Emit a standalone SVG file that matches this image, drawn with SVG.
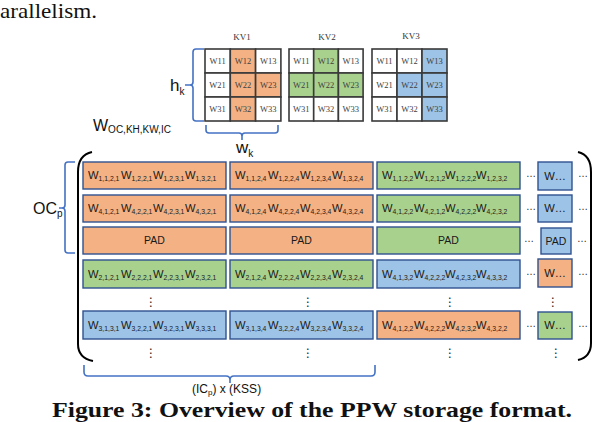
<svg xmlns="http://www.w3.org/2000/svg" width="594" height="422" viewBox="0 0 594 422">
<style>
.kv{stroke:#3a3a3a;stroke-width:1.6}
.ce{font-family:"Liberation Serif",serif;font-size:8.5px;fill:#404040;text-anchor:middle}
.kl{font-family:"Liberation Serif",serif;font-size:9px;fill:#333;text-anchor:middle}
.o{fill:#F4B183}.g{fill:#A9D18E}.b{fill:#9DC3E6}.n{fill:#ffffff}
.bx{stroke:#2F528F;stroke-width:1.4}
.t{font-family:"Liberation Sans",Arial,sans-serif;font-size:11.2px;fill:#1a1a1a}
.s{font-size:6.8px}
.pad{font-family:"Liberation Sans",Arial,sans-serif;font-size:10.5px;fill:#1a1a1a;text-anchor:middle}
.br{fill:none;stroke:#4472C4;stroke-width:1.6}
.lb{font-family:"Liberation Sans",Arial,sans-serif;fill:#111}
.dt{font-family:"Liberation Sans",Arial,sans-serif;font-size:10px;fill:#222;text-anchor:middle}
.vd{font-family:"DejaVu Sans",sans-serif;font-size:12px;fill:#222;text-anchor:middle}
</style>

<text x="0" y="18" font-family="Liberation Serif, serif" font-size="21" fill="#111" textLength="97" lengthAdjust="spacingAndGlyphs">arallelism.</text>

<!-- KV grids -->
<g id="kv1">
<text class="kl" x="242" y="40">KV1</text>
<rect class="n kv" x="205" y="49" width="25.3" height="24"/><rect class="o kv" x="230.3" y="49" width="25.3" height="24"/><rect class="n kv" x="255.6" y="49" width="25.3" height="24"/>
<rect class="n kv" x="205" y="73" width="25.3" height="24"/><rect class="o kv" x="230.3" y="73" width="25.3" height="24"/><rect class="o kv" x="255.6" y="73" width="25.3" height="24"/>
<rect class="n kv" x="205" y="97" width="25.3" height="24"/><rect class="o kv" x="230.3" y="97" width="25.3" height="24"/><rect class="n kv" x="255.6" y="97" width="25.3" height="24"/>
<text class="ce" x="217.6" y="64">W11</text><text class="ce" x="243" y="64">W12</text><text class="ce" x="268.3" y="64">W13</text>
<text class="ce" x="217.6" y="88">W21</text><text class="ce" x="243" y="88">W22</text><text class="ce" x="268.3" y="88">W23</text>
<text class="ce" x="217.6" y="112">W31</text><text class="ce" x="243" y="112">W32</text><text class="ce" x="268.3" y="112">W33</text>
</g>
<g id="kv2">
<text class="kl" x="327" y="40">KV2</text>
<rect class="n kv" x="289" y="49" width="24.7" height="24"/><rect class="g kv" x="313.7" y="49" width="24.7" height="24"/><rect class="n kv" x="338.4" y="49" width="24.7" height="24"/>
<rect class="g kv" x="289" y="73" width="24.7" height="24"/><rect class="g kv" x="313.7" y="73" width="24.7" height="24"/><rect class="g kv" x="338.4" y="73" width="24.7" height="24"/>
<rect class="n kv" x="289" y="97" width="24.7" height="24"/><rect class="n kv" x="313.7" y="97" width="24.7" height="24"/><rect class="n kv" x="338.4" y="97" width="24.7" height="24"/>
<text class="ce" x="301.3" y="64">W11</text><text class="ce" x="326" y="64">W12</text><text class="ce" x="350.7" y="64">W13</text>
<text class="ce" x="301.3" y="88">W21</text><text class="ce" x="326" y="88">W22</text><text class="ce" x="350.7" y="88">W23</text>
<text class="ce" x="301.3" y="112">W31</text><text class="ce" x="326" y="112">W32</text><text class="ce" x="350.7" y="112">W33</text>
</g>
<g id="kv3">
<text class="kl" x="411" y="39">KV3</text>
<rect class="n kv" x="372" y="49" width="25" height="24"/><rect class="n kv" x="397" y="49" width="25" height="24"/><rect class="b kv" x="422" y="49" width="25" height="24"/>
<rect class="n kv" x="372" y="73" width="25" height="24"/><rect class="b kv" x="397" y="73" width="25" height="24"/><rect class="b kv" x="422" y="73" width="25" height="24"/>
<rect class="n kv" x="372" y="97" width="25" height="24"/><rect class="n kv" x="397" y="97" width="25" height="24"/><rect class="b kv" x="422" y="97" width="25" height="24"/>
<text class="ce" x="384.5" y="64">W11</text><text class="ce" x="409.5" y="64">W12</text><text class="ce" x="434.5" y="64">W13</text>
<text class="ce" x="384.5" y="88">W21</text><text class="ce" x="409.5" y="88">W22</text><text class="ce" x="434.5" y="88">W23</text>
<text class="ce" x="384.5" y="112">W31</text><text class="ce" x="409.5" y="112">W32</text><text class="ce" x="434.5" y="112">W33</text>
</g>

<!-- brackets / annotations -->
<g id="connectors">
<path class="br" d="M204,49 H196 Q193,49 193,52 V82 Q193,85 190,85 H185 M190,85 Q193,85 193,88 V118 Q193,121 196,121 H204"/>
<path class="br" d="M206,125 V130 Q206,133 209,133 H239 Q242,133 242,136 V140 M242,136 Q242,133 245,133 H275 Q278,133 278,130 V125"/>
<path class="br" d="M75,162 H68 Q65,162 65,165 V205 Q65,208 62,208 H59 M62,208 Q65,208 65,211 V250 Q65,253 68,253 H75"/>
<path class="br" d="M84,365 V372 Q84,376 88,376 H226 Q230,376 230,380 V383 M230,380 Q230,376 234,376 H371 Q375,376 375,372 V365"/>
<path fill="none" stroke="#000" stroke-width="2" d="M92,152 Q78,155 78,172 V344 Q78,358 93,361"/>
<path fill="none" stroke="#000" stroke-width="2" d="M578,152 Q591,155 591,172 V343 Q591,357 578,360"/>
</g>

<text class="lb" x="170" y="91" font-size="17">h<tspan font-size="10" dy="4">k</tspan></text>
<text class="lb" x="236" y="153" font-size="17">w<tspan font-size="10" dy="4">k</tspan></text>
<text class="lb" x="93" y="131" font-size="16">W<tspan font-size="10" dy="2">OC,KH,KW,IC</tspan></text>
<text class="lb" x="33" y="214" font-size="16">OC<tspan font-size="10" dy="3">p</tspan></text>
<text class="lb" x="192" y="393" font-size="12">(IC<tspan font-size="8" dy="2">p</tspan><tspan dy="-2">) x (KSS)</tspan></text>

<!-- Row 1 -->
<g id="r1c1"><rect class="o bx" x="83" y="162" width="143" height="27"/>
<text class="t" y="179"><tspan x="88">W</tspan><tspan class="s" dy="2">1,1,2,1</tspan><tspan x="121" dy="-2">W</tspan><tspan class="s" dy="2">1,2,2,1</tspan><tspan x="153" dy="-2">W</tspan><tspan class="s" dy="2">1,2,3,1</tspan><tspan x="185" dy="-2">W</tspan><tspan class="s" dy="2">1,3,2,1</tspan></text></g>
<g id="r1c2"><rect class="o bx" x="230" y="162" width="143" height="27"/>
<text class="t" y="179"><tspan x="235">W</tspan><tspan class="s" dy="2">1,1,2,4</tspan><tspan x="268" dy="-2">W</tspan><tspan class="s" dy="2">1,2,2,4</tspan><tspan x="300" dy="-2">W</tspan><tspan class="s" dy="2">1,2,3,4</tspan><tspan x="332" dy="-2">W</tspan><tspan class="s" dy="2">1,3,2,4</tspan></text></g>
<g id="r1c3"><rect class="g bx" x="377" y="162" width="143" height="27"/>
<text class="t" y="179"><tspan x="382">W</tspan><tspan class="s" dy="2">1,1,2,2</tspan><tspan x="414" dy="-2">W</tspan><tspan class="s" dy="2">1,2,1,2</tspan><tspan x="445" dy="-2">W</tspan><tspan class="s" dy="2">1,2,2,2</tspan><tspan x="476" dy="-2">W</tspan><tspan class="s" dy="2">1,2,3,2</tspan></text></g>
<g id="r1c4"><rect class="b bx" x="538" y="162" width="34" height="28"/><text class="t" x="555" y="180" text-anchor="middle">W…</text></g>

<!-- Row 2 -->
<g id="r2c1"><rect class="o bx" x="83" y="195" width="143" height="27"/>
<text class="t" y="212"><tspan x="88">W</tspan><tspan class="s" dy="2">4,1,2,1</tspan><tspan x="121" dy="-2">W</tspan><tspan class="s" dy="2">4,2,2,1</tspan><tspan x="153" dy="-2">W</tspan><tspan class="s" dy="2">4,2,3,1</tspan><tspan x="185" dy="-2">W</tspan><tspan class="s" dy="2">4,3,2,1</tspan></text></g>
<g id="r2c2"><rect class="o bx" x="230" y="195" width="143" height="27"/>
<text class="t" y="212"><tspan x="235">W</tspan><tspan class="s" dy="2">4,1,2,4</tspan><tspan x="268" dy="-2">W</tspan><tspan class="s" dy="2">4,2,2,4</tspan><tspan x="300" dy="-2">W</tspan><tspan class="s" dy="2">4,2,3,4</tspan><tspan x="332" dy="-2">W</tspan><tspan class="s" dy="2">4,3,2,4</tspan></text></g>
<g id="r2c3"><rect class="g bx" x="377" y="195" width="143" height="27"/>
<text class="t" y="212"><tspan x="382">W</tspan><tspan class="s" dy="2">4,1,2,2</tspan><tspan x="414" dy="-2">W</tspan><tspan class="s" dy="2">4,2,1,2</tspan><tspan x="445" dy="-2">W</tspan><tspan class="s" dy="2">4,2,2,2</tspan><tspan x="476" dy="-2">W</tspan><tspan class="s" dy="2">4,2,3,2</tspan></text></g>
<g id="r2c4"><rect class="b bx" x="538" y="195" width="34" height="27"/><text class="t" x="555" y="212" text-anchor="middle">W…</text></g>

<!-- Row 3 PAD -->
<g id="r3c1"><rect class="o bx" x="83" y="227" width="143" height="27"/><text class="pad" x="154.5" y="244">PAD</text></g>
<g id="r3c2"><rect class="o bx" x="230" y="227" width="143" height="27"/><text class="pad" x="301.5" y="244">PAD</text></g>
<g id="r3c3"><rect class="g bx" x="377" y="227" width="143" height="27"/><text class="pad" x="448.5" y="244">PAD</text></g>
<g id="r3c4"><rect class="b bx" x="541" y="228" width="30" height="26"/><text class="pad" x="556" y="245">PAD</text></g>

<!-- Row 4 -->
<g id="r4c1"><rect class="g bx" x="83" y="260" width="143" height="28"/>
<text class="t" y="278"><tspan x="88">W</tspan><tspan class="s" dy="2">2,1,2,1</tspan><tspan x="121" dy="-2">W</tspan><tspan class="s" dy="2">2,2,2,1</tspan><tspan x="153" dy="-2">W</tspan><tspan class="s" dy="2">2,2,3,1</tspan><tspan x="185" dy="-2">W</tspan><tspan class="s" dy="2">2,3,2,1</tspan></text></g>
<g id="r4c2"><rect class="g bx" x="230" y="260" width="143" height="28"/>
<text class="t" y="278"><tspan x="235">W</tspan><tspan class="s" dy="2">2,1,2,4</tspan><tspan x="268" dy="-2">W</tspan><tspan class="s" dy="2">2,2,2,4</tspan><tspan x="300" dy="-2">W</tspan><tspan class="s" dy="2">2,2,3,4</tspan><tspan x="332" dy="-2">W</tspan><tspan class="s" dy="2">2,3,2,4</tspan></text></g>
<g id="r4c3"><rect class="b bx" x="377" y="260" width="143" height="28"/>
<text class="t" y="278"><tspan x="382">W</tspan><tspan class="s" dy="2">4,1,3,2</tspan><tspan x="414" dy="-2">W</tspan><tspan class="s" dy="2">4,2,2,2</tspan><tspan x="445" dy="-2">W</tspan><tspan class="s" dy="2">4,2,3,2</tspan><tspan x="476" dy="-2">W</tspan><tspan class="s" dy="2">4,3,3,2</tspan></text></g>
<g id="r4c4"><rect class="o bx" x="538" y="259" width="34" height="28"/><text class="t" x="555" y="277" text-anchor="middle">W…</text></g>

<!-- Row 5 -->
<g id="r5c1"><rect class="b bx" x="83" y="311" width="143" height="28"/>
<text class="t" y="329"><tspan x="88">W</tspan><tspan class="s" dy="2">3,1,3,1</tspan><tspan x="121" dy="-2">W</tspan><tspan class="s" dy="2">3,2,2,1</tspan><tspan x="153" dy="-2">W</tspan><tspan class="s" dy="2">3,2,3,1</tspan><tspan x="185" dy="-2">W</tspan><tspan class="s" dy="2">3,3,3,1</tspan></text></g>
<g id="r5c2"><rect class="b bx" x="230" y="311" width="143" height="28"/>
<text class="t" y="329"><tspan x="235">W</tspan><tspan class="s" dy="2">3,1,3,4</tspan><tspan x="268" dy="-2">W</tspan><tspan class="s" dy="2">3,2,2,4</tspan><tspan x="300" dy="-2">W</tspan><tspan class="s" dy="2">3,2,3,4</tspan><tspan x="332" dy="-2">W</tspan><tspan class="s" dy="2">3,3,2,4</tspan></text></g>
<g id="r5c3"><rect class="o bx" x="377" y="311" width="143" height="28"/>
<text class="t" y="329"><tspan x="382">W</tspan><tspan class="s" dy="2">4,1,2,2</tspan><tspan x="414" dy="-2">W</tspan><tspan class="s" dy="2">4,2,2,2</tspan><tspan x="445" dy="-2">W</tspan><tspan class="s" dy="2">4,2,3,2</tspan><tspan x="476" dy="-2">W</tspan><tspan class="s" dy="2">4,3,2,2</tspan></text></g>
<g id="r5c4"><rect class="g bx" x="538" y="312" width="34" height="27"/><text class="t" x="555" y="329" text-anchor="middle">W…</text></g>

<!-- horizontal ellipses -->
<g id="hdots">
<text class="dt" x="531" y="177">…</text><text class="dt" x="583" y="177">…</text>
<text class="dt" x="531" y="210">…</text><text class="dt" x="583" y="210">…</text>
<text class="dt" x="529" y="242">…</text><text class="dt" x="582" y="242">…</text>
<text class="dt" x="531" y="275">…</text><text class="dt" x="583" y="275">…</text>
<text class="dt" x="531" y="327">…</text><text class="dt" x="583" y="327">…</text>
</g>
<!-- vertical ellipses -->
<g id="vdots">
<text class="vd" x="151" y="306">⋮</text><text class="vd" x="308" y="306">⋮</text><text class="vd" x="450" y="306">⋮</text><text class="vd" x="553" y="306">⋮</text>
<text class="vd" x="151" y="357">⋮</text><text class="vd" x="308" y="357">⋮</text><text class="vd" x="450" y="357">⋮</text><text class="vd" x="556" y="357">⋮</text>
</g>

<text x="52" y="417" font-family="Liberation Serif, serif" font-size="21" font-weight="bold" fill="#111" textLength="520" lengthAdjust="spacingAndGlyphs">Figure 3: Overview of the PPW storage format.</text>
</svg>
